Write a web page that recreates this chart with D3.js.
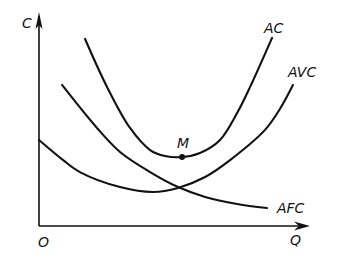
<!DOCTYPE html>
<html>
<head>
<meta charset="utf-8">
<script src="https://cdn.jsdelivr.net/npm/d3@7"></script>
<style>
  html, body { margin: 0; padding: 0; background: #fff; }
  text { font-family: "DejaVu Sans", sans-serif; font-style: italic; font-size: 14px; fill: #111; }
</style>
</head>
<body>
<svg id="chart" width="339" height="258"></svg>
<script>
"use strict"

// curve data, in Q / C units (axes run 0..10)
var acQ  = [1.70, 2.51, 3.36, 4.10, 4.65, 5.28, 5.94, 6.68, 7.31, 7.79, 8.60];
var acC  = [8.74, 6.50, 4.58, 3.55, 3.27, 3.22, 3.41, 4.02, 5.28, 6.50, 8.79];
var avcQ = [0.00, 0.89, 1.51, 2.99, 4.21, 5.13, 6.13, 7.05, 8.34, 8.89, 9.37];
var avcC = [4.02, 3.08, 2.52, 1.82, 1.59, 1.78, 2.29, 3.08, 4.49, 5.47, 6.59];
var afcQ = [0.85, 2.14, 2.99, 4.10, 5.13, 6.13, 7.31, 8.41];
var afcC = [6.59, 4.58, 3.46, 2.52, 1.82, 1.36, 1.03, 0.84];
var pointM = { q: 5.28, c: 3.22, label: "M" };
var curveLabels = ["AC", "AVC", "AFC"];
var axisLabels = ["C", "Q", "O"];

var svg = d3.select("#chart");

var x = d3.scaleLinear().domain([0, 10]).range([39, 310]);
var y = d3.scaleLinear().domain([0, 10]).range([226, 12]);

function zip(qs, cs) {
	return qs.map(function(q, i) { return [q, cs[i]]; });
}

var line = d3.line()
	.x(function(d) { return x(d[0]); })
	.y(function(d) { return y(d[1]); })
	.curve(d3.curveCatmullRom.alpha(0.5));

//
// axes
//
svg.append("line")
	.attr("x1", x(0)).attr("y1", y(0))
	.attr("x2", x(0)).attr("y2", y(10) + 4)
	.attr("stroke", "#111").attr("stroke-width", 1.6);
svg.append("line")
	.attr("x1", x(0)).attr("y1", y(0))
	.attr("x2", x(10) - 4).attr("y2", y(0))
	.attr("stroke", "#111").attr("stroke-width", 1.6);

// arrow heads
var tx = x(0), ty = y(10);
svg.append("path")
	.attr("d", "M" + tx + "," + ty + " L" + (tx + 3.5) + "," + (ty + 17) +
		" L" + tx + "," + (ty + 13) + " L" + (tx - 3.5) + "," + (ty + 17) + "Z")
	.attr("fill", "#111");
var ax = x(10), ay = y(0);
svg.append("path")
	.attr("d", "M" + ax + "," + ay + " L" + (ax - 16) + "," + (ay - 4.5) +
		" L" + (ax - 11) + "," + ay + " L" + (ax - 16) + "," + (ay + 4.5) + "Z")
	.attr("fill", "#111");

//
// curves
//
[zip(acQ, acC), zip(avcQ, avcC), zip(afcQ, afcC)].forEach(function(pts) {
	svg.append("path")
		.attr("d", line(pts))
		.attr("fill", "none")
		.attr("stroke", "#111")
		.attr("stroke-width", 2.1)
		.attr("stroke-linecap", "round");
});

// point M
svg.append("circle")
	.attr("cx", x(pointM.q)).attr("cy", y(pointM.c))
	.attr("r", 3).attr("fill", "#111");
svg.append("text")
	.attr("x", x(pointM.q) - 5).attr("y", y(pointM.c) - 9)
	.text(pointM.label);

//
// labels
//
var lastAc = acQ.length - 1, lastAvc = avcQ.length - 1, lastAfc = afcQ.length - 1;
svg.append("text").attr("x", x(acQ[lastAc]) - 8).attr("y", y(acC[lastAc]) - 5).text(curveLabels[0]);
svg.append("text").attr("x", x(avcQ[lastAvc]) - 5).attr("y", y(avcC[lastAvc]) - 8).text(curveLabels[1]);
svg.append("text").attr("x", x(afcQ[lastAfc]) + 10).attr("y", y(afcC[lastAfc]) + 5).text(curveLabels[2]);

svg.append("text").attr("x", x(0) - 17).attr("y", y(10) + 16).text(axisLabels[0]);
svg.append("text").attr("x", x(10) - 20).attr("y", y(0) + 19).text(axisLabels[1]);
svg.append("text").attr("x", x(0) - 1).attr("y", y(0) + 21).text(axisLabels[2]);
</script>
</body>
</html>
